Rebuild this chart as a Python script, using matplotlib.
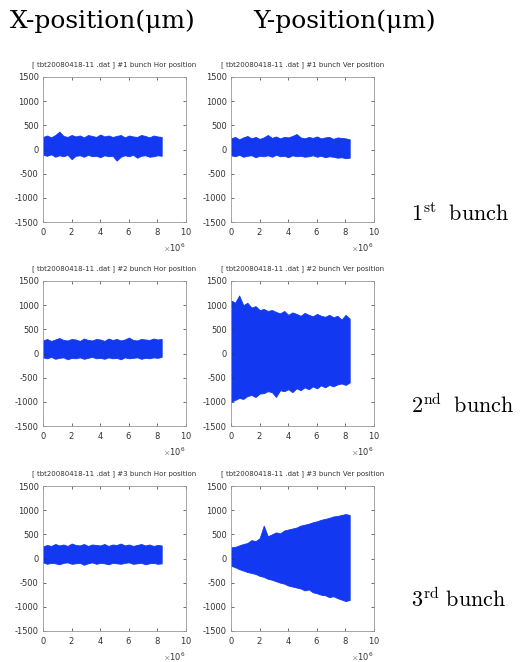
import numpy as np
import matplotlib.pyplot as plt
from matplotlib.ticker import ScalarFormatter

# envelope of turn-by-turn position (um)
# sample points along turn number, 0 .. 8.3e6 turns
n_pts = 30
turns = np.linspace(0, 8.3e6, n_pts)

hor1_up = [260, 290, 250, 300, 370, 280, 260, 300, 270, 290, 250, 300, 280, 260, 310,
           270, 290, 260, 280, 300, 250, 290, 270, 260, 300, 280, 250, 290, 270, 260]
hor1_lo = [-110, -130, -100, -150, -120, -140, -110, -200, -130, -120, -150, -110, -140, -130, -160,
           -120, -140, -130, -230, -150, -120, -140, -110, -170, -130, -120, -150, -140, -120, -130]
ver1_up = [230, 260, 210, 250, 280, 230, 260, 220, 250, 300, 240, 270, 230, 260, 250,
           280, 320, 250, 230, 260, 240, 270, 230, 250, 260, 220, 250, 240, 230, 210]
ver1_lo = [-120, -140, -110, -150, -130, -120, -160, -130, -140, -120, -150, -110, -140, -130, -160,
           -120, -140, -130, -150, -140, -120, -150, -130, -160, -140, -150, -170, -160, -180, -170]
hor2_up = [270, 300, 260, 290, 320, 280, 270, 300, 290, 260, 310, 280, 270, 300, 290,
           260, 310, 280, 300, 270, 290, 330, 280, 270, 300, 290, 280, 310, 290, 300]
hor2_lo = [-80, -100, -70, -110, -90, -80, -120, -90, -100, -80, -110, -90, -70, -100, -90,
           -110, -80, -100, -90, -120, -80, -100, -90, -80, -110, -90, -100, -80, -90, -70]
ver2_up = [1100, 1050, 1200, 1000, 1050, 950, 980, 900, 920, 880, 900, 860, 830, 880, 800,
           850, 820, 780, 840, 800, 770, 820, 780, 760, 800, 750, 780, 700, 800, 720]
ver2_lo = [-1000, -960, -920, -940, -880, -860, -900, -830, -820, -780, -800, -900, -760, -780, -740,
           -800, -720, -760, -700, -740, -680, -720, -660, -700, -650, -680, -640, -620, -650, -600]
hor3_up = [250, 280, 260, 300, 270, 290, 260, 310, 280, 270, 300, 260, 290, 280, 270,
           300, 260, 290, 280, 310, 270, 290, 260, 280, 300, 270, 290, 260, 280, 270]
hor3_lo = [-80, -110, -90, -100, -120, -90, -80, -110, -100, -90, -130, -100, -80, -110, -90,
           -100, -120, -90, -100, -110, -90, -80, -110, -100, -90, -120, -100, -90, -110, -100]
ver3_up = [230, 240, 270, 300, 320, 380, 360, 420, 680, 460, 500, 540, 520, 580, 600,
           620, 640, 680, 700, 720, 750, 770, 800, 820, 840, 870, 880, 900, 920, 900]
ver3_lo = [-150, -180, -220, -250, -280, -300, -320, -360, -380, -420, -440, -470, -500, -520, -560,
           -580, -600, -620, -660, -640, -700, -720, -750, -760, -800, -780, -820, -850, -880, -860]

titles = ['[ tbt20080418-11 .dat ] #%d bunch Hor position',
          '[ tbt20080418-11 .dat ] #%d bunch Ver position']
bunch_labels = [r'$\mathrm{1^{st}\ \;bunch}$', r'$\mathrm{2^{nd}\ \;bunch}$',
                r'$\mathrm{3^{rd}\ bunch}$']

panels = [[(hor1_up, hor1_lo), (ver1_up, ver1_lo)],
          [(hor2_up, hor2_lo), (ver2_up, ver2_lo)],
          [(hor3_up, hor3_lo), (ver3_up, ver3_lo)]]

W, H = 521, 662
plt.rcParams['mathtext.fontset'] = 'cm'
plt.rcParams['axes.unicode_minus'] = False
fig = plt.figure(figsize=(W / 100, H / 100), dpi=100)

blue = '#1238f2'
lefts = [43, 231]
tops = [77, 281, 486]
aw, ah = 143, 145

for r in range(3):
    for c in range(2):
        ax = fig.add_axes([lefts[c] / W, 1 - (tops[r] + ah) / H, aw / W, ah / H])
        up, lo = panels[r][c]
        ax.fill_between(turns, lo, up, color=blue, lw=0.6, edgecolor=blue)
        ax.set_xlim(0, 1e7)
        ax.set_ylim(-1500, 1500)
        ax.set_xticks(np.arange(0, 1.01e7, 2e6))
        ax.set_yticks(np.arange(-1500, 1501, 500))
        fmt = ScalarFormatter(useMathText=True)
        fmt.set_powerlimits((6, 6))
        ax.xaxis.set_major_formatter(fmt)
        ax.xaxis.get_offset_text().set_fontsize(6)
        ax.xaxis.get_offset_text().set_color('#333333')
        ax.tick_params(direction='in', length=2.5, width=0.5, labelsize=6,
                       colors='#333333', top=True, right=True, pad=3)
        for s in ax.spines.values():
            s.set_color('#999999')
            s.set_linewidth(0.6)
        ax.set_title(titles[c] % (r + 1), fontsize=5, color='#333333', pad=8)

fig.text(10 / W, 1 - 21 / H, 'X-position(μm)', family='DejaVu Serif', fontsize=18,
         va='center', ha='left')
fig.text(253 / W, 1 - 21 / H, 'Y-position(μm)', family='DejaVu Serif', fontsize=18,
         va='center', ha='left')

label_y = [213, 405, 599]
for i, lab in enumerate(bunch_labels):
    fig.text(411 / W, 1 - label_y[i] / H, lab, fontsize=16, va='center', ha='left')

fig.savefig('out.png', dpi=100, facecolor='white')
